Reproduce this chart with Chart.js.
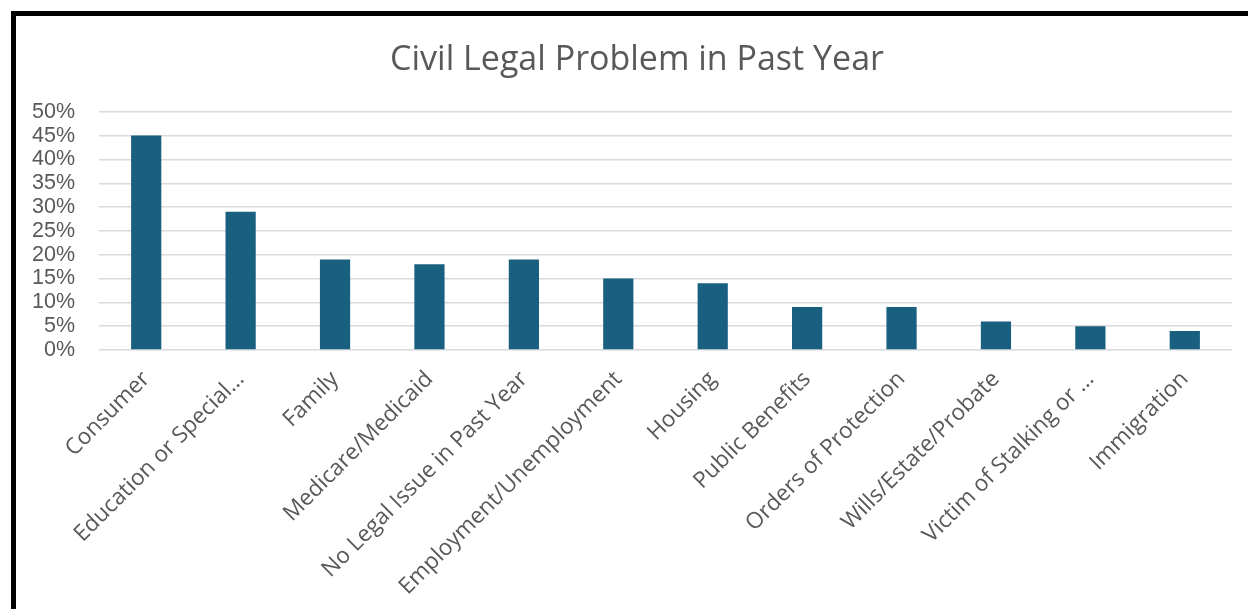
<!DOCTYPE html>
<html>
<head>
<meta charset="utf-8">
<script src="https://cdn.jsdelivr.net/npm/chart.js@4"></script>
<style>
  html, body { margin: 0; padding: 0; background: #fff; overflow: hidden; }
  #frame {
    position: absolute; left: 11px; top: 11px;
    width: 1300px; height: 700px;
    border-left: 5px solid #000; border-top: 5px solid #000;
  }
  #wrap { position: absolute; left: 0; top: 0; width: 1242px; height: 593px; }
</style>
</head>
<body>
<div id="frame"><div id="wrap"><canvas id="chart"></canvas></div></div>
<script>
// Categories and values (percent)
const categories = [
  "Consumer",
  "Education or Special\u2026",
  "Family",
  "Medicare/Medicaid",
  "No Legal Issue in Past Year",
  "Employment/Unemployment",
  "Housing",
  "Public Benefits",
  "Orders of Protection",
  "Wills/Estate/Probate",
  "Victim of Stalking or \u2026",
  "Immigration"
]
const shares = [45, 29, 19, 18, 19, 15, 14, 9, 9, 6, 5, 4]
const yTicks = [0, 5, 10, 15, 20, 25, 30, 35, 40, 45, 50]

const textColor = "#595959"
const gridColor = "#d9d9d9"

new Chart(document.getElementById("chart"), {
  type: "bar",
  data: {
    labels: categories,
    datasets: [{
      label: "Civil Legal Problem in Past Year",
      data: shares,
      backgroundColor: "#185f80",
      borderWidth: 0,
      categoryPercentage: 1,
      barPercentage: 0.32
    }]
  },
  options: {
    responsive: true,
    maintainAspectRatio: false,
    animation: false,
    layout: { padding: 0 },
    plugins: {
      legend: { display: false },
      tooltip: { enabled: false },
      title: {
        display: true,
        text: "Civil Legal Problem in Past Year",
        color: textColor,
        font: { family: "'Open Sans', sans-serif", size: 34, weight: "normal", lineHeight: 1.2 },
        padding: { top: 24, bottom: 31 }
      }
    },
    scales: {
      x: {
        grid: { display: false },
        border: { display: false },
        ticks: {
          color: textColor,
          maxRotation: 45,
          minRotation: 45,
          autoSkip: false,
          padding: 8,
          font: { family: "'Open Sans', sans-serif", size: 22.5 }
        },
        afterFit: scale => { scale.height = 259 }
      },
      y: {
        min: 0,
        max: 50,
        afterBuildTicks: scale => { scale.ticks = yTicks.map(v => ({ value: v })) },
        grid: { color: gridColor, lineWidth: 1.5, drawTicks: false },
        border: { display: false },
        ticks: {
          color: textColor,
          padding: 24,
          autoSkip: false,
          font: { family: "'Liberation Sans', Arial, sans-serif", size: 21.5 },
          callback: v => v + "%"
        },
        afterFit: scale => { scale.width = 83 }
      },
      // empty right-hand margin so the title sits centred like the original
      yRight: {
        position: "right",
        min: 0,
        max: 50,
        grid: { display: false },
        border: { display: false },
        ticks: { display: false },
        afterFit: scale => { scale.width = 26 }
      }
    }
  }
})
</script>
</body>
</html>
